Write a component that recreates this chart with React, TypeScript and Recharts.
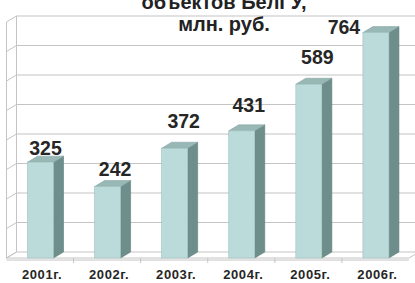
import React from 'react';
import { BarChart, Bar, XAxis, YAxis, CartesianGrid, LabelList } from 'recharts';

const years = ['2001г.', '2002г.', '2003г.', '2004г.', '2005г.', '2006г.'];
const values = [325, 242, 372, 431, 589, 764];
const yTicks = [0, 100, 200, 300, 400, 500, 600, 700, 800];
const titleLines = ['объектов БелГУ,', 'млн. руб.'];

const data = years.map((year, i) => ({ year, value: values[i] }));

// layout / style constants
const W = 415;
const H = 283;
const DX = 10;
const DY = -6;
const GRID = '#c4c4c4';
const FRONT = '#badbda';
const SIDE = '#6e8e8c';
const TOP = '#98b8b5';
const LABEL_NUDGE_X = [5, 7.5, 9, 7, 8.5, -32];
const LABEL_NUDGE_Y = [-7, -11, -20, -19, -20, 1];
const FONT = '"Liberation Sans", Arial, sans-serif';

const renderGridLine = (props: any) => {
  const { x1, x2, y1, index } = props;
  const y = y1;
  const isFloor = y > 250;
  return (
    <g key={`gl-${index}-${y}`}>
      {isFloor ? (
        <g>
          <polygon
            points={`${x1},${y} ${x2},${y} ${x2 + DX},${y + DY} ${x1 + DX},${y + DY}`}
            fill="#ffffff"
            stroke={GRID}
            strokeWidth={1}
          />
          <line x1={x1} y1={y + 2} x2={x2} y2={y + 2} stroke={GRID} strokeWidth={1} />
          {[1, 2, 3, 4, 5].map((k) => {
            const tx = x1 + ((x2 - x1) * k) / 6;
            return <line key={`ft-${k}`} x1={tx} y1={y} x2={tx} y2={y + 5} stroke={GRID} strokeWidth={1} />;
          })}
        </g>
      ) : (
        <line x1={x1 + DX} y1={y + DY} x2={x2 + DX} y2={y + DY} stroke={GRID} strokeWidth={1.2} />
      )}
      <line x1={x1} y1={y} x2={x1 + DX} y2={y + DY} stroke={GRID} strokeWidth={1} />
    </g>
  );
};

const renderBar = (props: any) => {
  const { x, y, width, height, index } = props;
  const r = x + width;
  const b = y + height;
  return (
    <g key={`bar-${index}`}>
      <polygon
        points={`${r},${y} ${r + DX},${y + DY} ${r + DX},${b + DY} ${r},${b}`}
        fill={SIDE}
        stroke="#5f7d7b"
        strokeWidth={0.6}
      />
      <polygon
        points={`${x},${y} ${x + DX},${y + DY} ${r + DX},${y + DY} ${r},${y}`}
        fill={TOP}
        stroke="#86a5a2"
        strokeWidth={0.6}
      />
      <rect x={x} y={y} width={width} height={height} fill={FRONT} stroke="#9fbfbd" strokeWidth={0.6} />
    </g>
  );
};

const renderLabel = (props: any) => {
  const { x, y, width, value, index } = props;
  const cx = Number(x) + Number(width) / 2 + (LABEL_NUDGE_X[index] ?? 6);
  const by = Number(y) + (LABEL_NUDGE_Y[index] ?? -10);
  return (
    <text
      key={`lbl-${index}`}
      x={cx}
      y={by}
      textAnchor="middle"
      fontFamily={FONT}
      fontWeight="bold"
      fontSize={19.5}
      fill="#262626"
    >
      {value}
    </text>
  );
};

const renderTick = (props: any) => {
  const { x, y, payload } = props;
  return (
    <text
      x={x + 2}
      y={y + 13}
      textAnchor="middle"
      fontFamily={FONT}
      fontWeight="bold"
      fontSize={13}
      letterSpacing={0.6}
      fill="#262626"
    >
      {payload.value}
    </text>
  );
};

export default function App() {
  const plotLeft = 6.5;
  const plotTop = 22;
  const plotBottom = 258;
  return (
    <div style={{ position: 'absolute', left: 0, top: 0, width: W, height: H, background: '#ffffff', overflow: 'hidden' }}>
      <BarChart
        width={W}
        height={H}
        data={data}
        margin={{ top: plotTop, right: 6, bottom: 0, left: plotLeft }}
        barSize={26}
      >
        <CartesianGrid vertical={false} horizontal={renderGridLine} />
        <YAxis hide domain={[0, 800]} ticks={yTicks} type="number" />
        <XAxis
          dataKey="year"
          axisLine={false}
          tickLine={false}
          interval={0}
          height={H - plotBottom}
          tick={renderTick}
        />
        <Bar dataKey="value" shape={renderBar} isAnimationActive={false}>
          <LabelList dataKey="value" content={renderLabel} />
        </Bar>
      </BarChart>
      <svg width={W} height={H} style={{ position: 'absolute', left: 0, top: 0, pointerEvents: 'none' }}>
        <line x1={plotLeft} y1={plotTop} x2={plotLeft} y2={plotBottom} stroke={GRID} strokeWidth={1} />
        <line x1={plotLeft + DX} y1={plotTop + DY} x2={plotLeft + DX} y2={plotBottom + DY} stroke={GRID} strokeWidth={1} />
        <text x={224} y={9} textAnchor="middle" fontFamily={FONT} fontWeight="bold" fontSize={20} fill="#222">
          {titleLines[0]}
        </text>
        <text x={224} y={31} textAnchor="middle" fontFamily={FONT} fontWeight="bold" fontSize={20} fill="#222">
          {titleLines[1]}
        </text>
      </svg>
    </div>
  );
}
